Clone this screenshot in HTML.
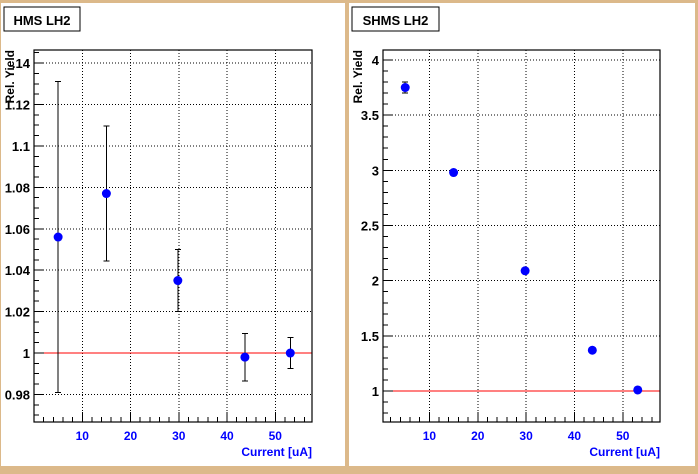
<!DOCTYPE html>
<html><head><meta charset="utf-8"><style>
body{margin:0;background:#dcb98a;}
svg{display:block;font-family:"Liberation Sans",Arial,sans-serif;font-weight:bold;}
line{shape-rendering:crispEdges;}
</style></head><body>
<svg id="c" width="698" height="474">
<rect x="0" y="0" width="698" height="474" fill="#dcb98a"/>
<rect x="1" y="3" width="344" height="463" fill="#fff"/>
<rect x="349" y="3" width="346" height="463" fill="#fff"/>
<g id="g"></g>
</svg>
<script>
const hmsX=[5,15,29.8,43.7,53.1];
const hmsY=[1.056,1.077,1.035,0.998,1.000];
const hmsErr=[0.075,0.0325,0.015,0.0115,0.0075];
const shmsX=[5,15,29.8,43.7,53.1];
const shmsY=[3.75,2.98,2.09,1.37,1.01];
const shmsErr=[0.05,0.01,0.01,0.01,0.01];
const xTicks=[10,20,30,40,50];
const hmsYTicks=[0.98,1,1.02,1.04,1.06,1.08,1.1,1.12,1.14];
const hmsYLabels=["0.98","1","1.02","1.04","1.06","1.08","1.1","1.12",".14"];
const shmsYTicks=[1,1.5,2,2.5,3,3.5,4];
const shmsYLabels=["1","1.5","2","2.5","3","3.5","4"];
const NS="http://www.w3.org/2000/svg";
const g=document.getElementById('g');
function el(t,a,p){const e=document.createElementNS(NS,t);for(const k in a)e.setAttribute(k,a[k]);(p||g).appendChild(e);return e;}
function panel(o){
 const sx=v=>o.x0+(v-o.xmin)/(o.xmax-o.xmin)*(o.x1-o.x0);
 const sy=v=>o.y1-(v-o.ymin)/(o.ymax-o.ymin)*(o.y1-o.y0);
 const grp=el('g',{});
 
 
 const tb=el('rect',{x:o.tx,y:7,width:o.tw,height:24,fill:'#fff',stroke:'#000','stroke-width':1},grp);
 
 
 const tt=el('text',{x:o.tx+o.tw/2,y:25,'font-size':13,'text-anchor':'middle'},grp);tt.textContent=o.title;
 
 
 xTicks.forEach(v=>{const l=el('line',{x1:sx(v),x2:sx(v),y1:o.y0,y2:o.y1,stroke:'#000','stroke-dasharray':'1,2','stroke-width':1},grp);
  
  });
 o.yt.forEach(v=>{const l=el('line',{x1:o.x0,x2:o.x1,y1:sy(v),y2:sy(v),stroke:'#000','stroke-dasharray':'1,2','stroke-width':1},grp);
  
  });
 const rl=el('line',{x1:o.x0,x2:o.x1,y1:sy(1),y2:sy(1),stroke:'#f00','stroke-width':1},grp);
 
 
 const fr=el('rect',{x:o.x0,y:o.y0,width:o.x1-o.x0,height:o.y1-o.y0,fill:'none',stroke:'#000','stroke-width':1.2},grp);
 
 
 for(let v=0;v<=o.xmax;v+=2){if(v<=o.xmin)continue;const big=v%10===0;el('line',{x1:sx(v),x2:sx(v),y1:o.y1,y2:o.y1-(big?10:5),stroke:'#000'},grp);}
 xTicks.forEach(v=>{const t=el('text',{x:sx(v),y:o.y1+18,'font-size':12,fill:'#00f','text-anchor':'middle'},grp);t.textContent=v;
  
  });
 const xl=el('text',{x:o.x1,y:o.y1+34,'font-size':12,fill:'#00f','text-anchor':'end'},grp);xl.textContent='Current [uA]';
 
 
 const n=o.minor;
 for(let i=0;i<o.yt.length;i++){const v=o.yt[i];el('line',{x1:o.x0,x2:o.x0+10,y1:sy(v),y2:sy(v),stroke:'#000'},grp);}
 for(let v=o.yt[0]-o.ystep;v<=o.ymax;v+=o.ystep/n){if(v<o.ymin)continue;el('line',{x1:o.x0,x2:o.x0+5,y1:sy(v),y2:sy(v),stroke:'#000'},grp);}
 o.yt.forEach((v,i)=>{const t=el('text',{x:o.x0-4,y:sy(v)+5,'font-size':13,'text-anchor':'end'},grp);t.textContent=o.yl[i];
  
  });
 const yl=el('text',{x:0,y:0,'font-size':12,'text-anchor':'end',transform:`translate(${o.ytx},${o.y0}) rotate(-90)`},grp);yl.textContent='Rel. Yield';
 
 
 o.xs.forEach((x,i)=>{const cx=sx(x),cy=sy(o.ys[i]),e=o.es[i];
  const hi=sy(o.ys[i]+e),lo=sy(o.ys[i]-e);
  const p=el('g',{},grp);
  
  
  el('line',{x1:cx,x2:cx,y1:hi,y2:lo,stroke:'#000'},p);
  el('line',{x1:cx-3,x2:cx+3,y1:hi,y2:hi,stroke:'#000'},p);
  el('line',{x1:cx-3,x2:cx+3,y1:lo,y2:lo,stroke:'#000'},p);
  el('circle',{cx:cx,cy:cy,r:4.5,fill:'#00f'},p);});
}
panel({name:'hms',title:'HMS LH2',tx:4,tw:76,x0:34,x1:312,y0:50,y1:422,xmin:0,xmax:57.6,ymin:0.9667,ymax:1.1463,yt:hmsYTicks,yl:hmsYLabels,ystep:0.02,minor:4,ytx:14,xs:hmsX,ys:hmsY,es:hmsErr});
panel({name:'shms',title:'SHMS LH2',tx:352,tw:87,x0:383,x1:660,y0:50,y1:422,xmin:0.4,xmax:57.7,ymin:0.72,ymax:4.09,yt:shmsYTicks,yl:shmsYLabels,ystep:0.5,minor:5,ytx:362,xs:shmsX,ys:shmsY,es:shmsErr});
</script>
</body></html>
